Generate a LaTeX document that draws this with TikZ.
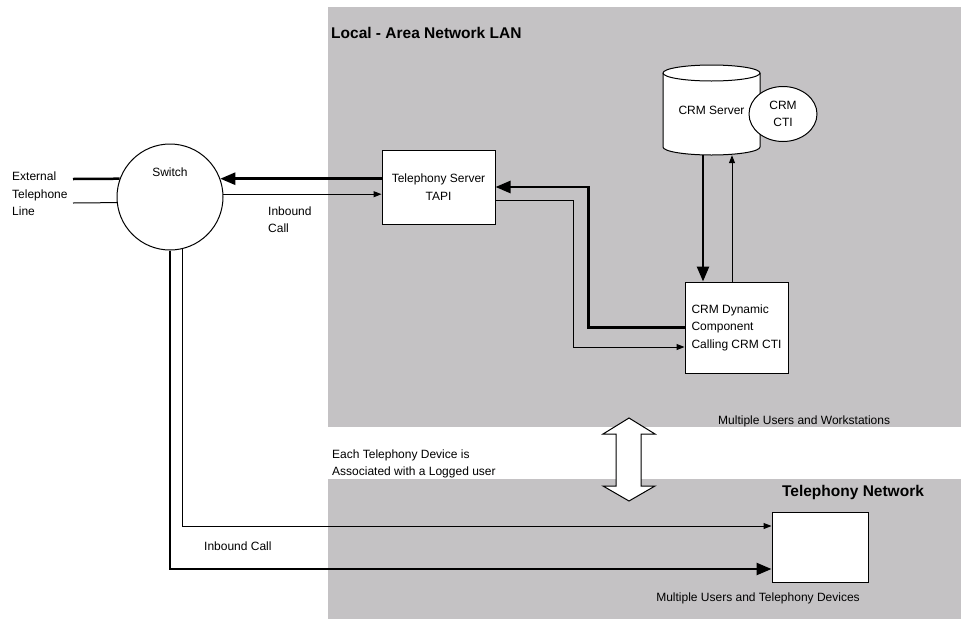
\documentclass[tikz,border=0pt]{standalone}
\usepackage{fontspec}
\setmainfont{Liberation Sans}
\usetikzlibrary{arrows.meta,shapes.geometric,calc}
\definecolor{lanfill}{RGB}{196,194,196}
\begin{document}
\begin{tikzpicture}[x=1pt,y=1pt, font=\fontsize{12}{17.5}\selectfont,
  box/.style={draw, fill=white, line width=1pt, inner sep=0pt},
  lbl/.style={inner sep=0pt, align=left},
  thinarr/.style={line width=1pt, -{Triangle[length=8pt,width=6pt]}},
  thickarr/.style={line width=2.5pt, -{Triangle[length=15pt,width=12pt]}},
  thinline/.style={line width=1pt},
  thickline/.style={line width=2.5pt},
  titletext/.style={font=\fontsize{15.5}{18}\selectfont\bfseries, inner sep=0pt}
]
\useasboundingbox (0,0) rectangle (961,-619);
% shaded regions
\fill[lanfill] (328,-7) rectangle (961,-427);
\fill[lanfill] (328,-479) rectangle (961,-619);

\node[titletext, anchor=west] (lantitle) at (331,-33) {Local - Area Network LAN};

% switch
\node[circle, draw, fill=white, line width=1pt, minimum size=106pt, inner sep=0pt] (sw) at (170,-197) {};
\node[lbl] (swl) at (170,-172) {Switch};
\node[lbl, anchor=west] (ext) at (12,-194) {External\\Telephone\\Line};
\coordinate (e1) at (73,-179);
\coordinate (e2) at (73,-203);
\draw[thickline] (e1) -- (sw.160);
\draw[thinline] (e2) -- (sw.186);

% telephony server
\node[box, minimum width=113pt, minimum height=74pt, align=center] (ts) at (438.5,-187) {Telephony Server\\TAPI};
\draw[thickarr] (ts.west |- sw.20) -- (sw.20);
\draw[thinarr] (sw.3) -- (ts.west |- sw.3);
\node[lbl, anchor=west] (ib1) at (268,-219.5) {Inbound\\Call};

% CRM server cylinder
\draw[fill=white, line width=1pt] (663,-73) -- (663,-147)
  arc[start angle=180, end angle=360, x radius=48.5, y radius=8] -- (760,-73)
  arc[start angle=0, end angle=180, x radius=48.5, y radius=8] -- cycle;
\draw[line width=1pt] (663,-73) arc[start angle=180, end angle=360, x radius=48.5, y radius=8];
\node[inner sep=0pt, minimum width=97pt, minimum height=90pt] (crms) at (711.5,-110) {CRM Server};
\node[ellipse, draw, fill=white, line width=1pt, minimum width=68pt, minimum height=55pt, inner sep=0pt, align=center] (cti) at (783,-114) {CRM\\CTI};

% CRM dynamic component
\node[box, minimum width=103pt, minimum height=91pt, align=left] (dyn) at (736.5,-327.5) {CRM Dynamic\\Component\\Calling CRM CTI};
\coordinate (d1) at ($(crms.south)+(-8.5,0)$);
\coordinate (u1) at ($(dyn.north)+(-4.5,0)$);
\draw[thickarr] (d1) -- (d1 |- dyn.north);
\draw[thinarr] (u1) -- (u1 |- crms.south);
\draw[thickarr] (dyn.west) -- ++(-96,0) |- (ts.east);
\draw[thinarr] ($(ts.east)+(0,-13)$) -- ++(78,0) |- ($(dyn.west)+(0,-19.5)$);

\node[lbl, anchor=west] (mw) at (718,-421) {Multiple Users and Workstations};

% double arrow
\draw[fill=white, line width=1pt] (629,-418) -- (655,-434) -- (641,-434) -- (641,-486)
  -- (655,-486) -- (629,-501) -- (603,-486) -- (616,-486) -- (616,-434) -- (603,-434) -- cycle;

\node[lbl, anchor=west] (each) at (332,-464) {Each Telephony Device is\\Associated with a Logged user};

% telephony network
\node[titletext] (tntitle) at (853,-492) {Telephony Network};
\node[box, minimum width=96pt, minimum height=70pt] (tn) at (820,-547) {};
\node[lbl] (mt) at (758,-598) {Multiple Users and Telephony Devices};
\draw[thinarr] (sw.-76) |- ($(tn.west)+(0,21)$);
\draw[thickarr] (sw.south) |- ($(tn.west)+(0,-22)$);
\node[lbl, anchor=west] (ib2) at (204,-546) {Inbound Call};
\end{tikzpicture}
\end{document}
